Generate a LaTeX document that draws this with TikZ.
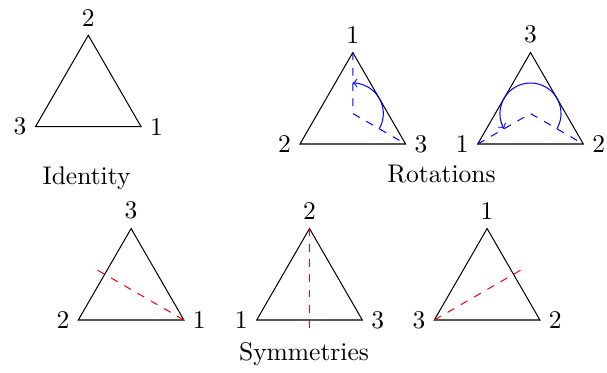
\documentclass[tikz,border=0pt]{standalone}
\usetikzlibrary{calc}
\begin{document}
\begin{tikzpicture}[x=0.392pt,y=0.392pt,
  tri/.style={draw=black,line width=0.4pt},
  rotline/.style={blue,dashed},
  rotarc/.style={blue,->},
  symline/.style={red,dashed},
  caption/.style={anchor=base,inner sep=0pt}]
\useasboundingbox (0,0) rectangle (607,372);
% side and height
\def\s{105.6}\def\h{91.45}\def\r{30.5}
% Identity
\coordinate (iL) at (35.5,245.3);
\coordinate (iR) at ($(iL)+(\s,0)$);
\coordinate (iT) at ($(iL)+(\s/2,\h)$);
\draw[tri] (iL) -- (iR) -- (iT) -- cycle;
\node[above] (iTl) at (iT) {2};
\node[left] (iLl) at (iL) {3};
\node[right] (iRl) at (iR) {1};
\node[caption] (idtext) at (86.5,188) {Identity};
% Rotation 1
\coordinate (aL) at (300,228);
\coordinate (aR) at ($(aL)+(\s,0)$);
\coordinate (aT) at ($(aL)+(\s/2,\h)$);
\coordinate (aC) at ($(aL)+(\s/2,\h/3)$);
\draw[tri] (aL) -- (aR) -- (aT) -- cycle;
\draw[rotline] (aT) -- (aC) -- (aR);
\draw[rotarc] ($(aC)+(-30:\r)$) arc[start angle=-30,end angle=90,radius=\r];
\node[above] (aTl) at (aT) {1};
\node[left] (aLl) at (aL) {2};
\node[right] (aRl) at (aR) {3};
% Rotation 2
\coordinate (bL) at (477.7,228);
\coordinate (bR) at ($(bL)+(\s,0)$);
\coordinate (bT) at ($(bL)+(\s/2,\h)$);
\coordinate (bC) at ($(bL)+(\s/2,\h/3)$);
\draw[tri] (bL) -- (bR) -- (bT) -- cycle;
\draw[rotline] (bL) -- (bC) -- (bR);
\draw[rotarc] ($(bC)+(-30:\r)$) arc[start angle=-30,end angle=210,radius=\r];
\node[above] (bTl) at (bT) {3};
\node[left] (bLl) at (bL) {1};
\node[right] (bRl) at (bR) {2};
\node[caption] (rottext) at (441.5,190) {Rotations};
% Symmetry 1
\coordinate (cL) at (78.3,52);
\coordinate (cR) at ($(cL)+(\s,0)$);
\coordinate (cT) at ($(cL)+(\s/2,\h)$);
\draw[tri] (cL) -- (cR) -- (cT) -- cycle;
\coordinate (cM) at ($(cL)!0.5!(cT)$);
\coordinate (cE) at ($(cR)!1.125!(cM)$);
\draw[symline] (cR) -- (cE);
\node[above] (cTl) at (cT) {3};
\node[left] (cLl) at (cL) {2};
\node[right] (cRl) at (cR) {1};
% Symmetry 2
\coordinate (dL) at (256.7,52);
\coordinate (dR) at ($(dL)+(\s,0)$);
\coordinate (dT) at ($(dL)+(\s/2,\h)$);
\draw[tri] (dL) -- (dR) -- (dT) -- cycle;
\coordinate (dM) at ($(dL)!0.5!(dR)$);
\coordinate (dE) at ($(dT)!1.125!(dM)$);
\draw[symline] (dT) -- (dE);
\node[above] (dTl) at (dT) {2};
\node[left] (dLl) at (dL) {1};
\node[right] (dRl) at (dR) {3};
% Symmetry 3
\coordinate (eL) at (434.3,52);
\coordinate (eR) at ($(eL)+(\s,0)$);
\coordinate (eT) at ($(eL)+(\s/2,\h)$);
\draw[tri] (eL) -- (eR) -- (eT) -- cycle;
\coordinate (eM) at ($(eR)!0.5!(eT)$);
\coordinate (eE) at ($(eL)!1.125!(eM)$);
\draw[symline] (eL) -- (eE);
\node[above] (eTl) at (eT) {1};
\node[left] (eLl) at (eL) {3};
\node[right] (eRl) at (eR) {2};
\node[caption] (symtext) at (304,12) {Symmetries};
\end{tikzpicture}
\end{document}
